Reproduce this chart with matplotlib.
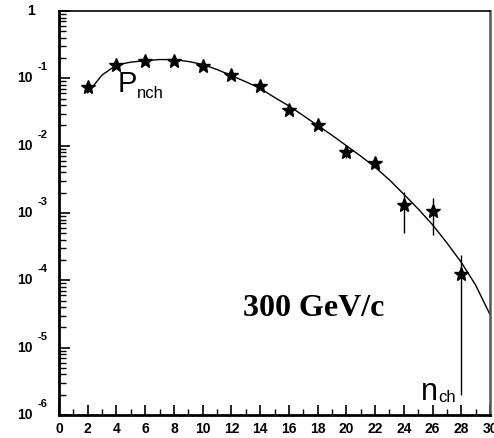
import matplotlib.pyplot as plt
from matplotlib.ticker import MultipleLocator, LogLocator, NullFormatter
import matplotlib.transforms as mtransforms

# measured multiplicity distribution P(n_ch), 300 GeV/c
n_ch = [2, 4, 6, 8, 10, 12, 14, 16, 18, 20, 22, 24, 26, 28]
p_nch = [0.074, 0.158, 0.18, 0.18, 0.153, 0.112, 0.077, 0.034, 0.020,
         0.0081, 0.0055, 0.0013, 0.00107, 0.000125]
err_lo = [0.0, 0.0, 0.0, 0.0, 0.0, 0.0, 0.0, 0.0, 0.0,
          0.0015, 0.0009, 0.0008, 0.0006, 0.000123]
err_hi = [0.0, 0.0, 0.0, 0.0, 0.0, 0.0, 0.0, 0.0, 0.0,
          0.0017, 0.0012, 0.00075, 0.0006, 0.000115]

# fitted curve
fit_x = [2, 3, 4, 5, 6, 7, 8, 9, 10, 11, 12, 13, 14, 15, 16,
         17, 18, 19, 20, 21, 22, 23, 24, 25, 26, 27, 28, 29, 30]
fit_y = [0.061, 0.112, 0.158, 0.174, 0.183, 0.19, 0.19, 0.178, 0.161, 0.135,
         0.110, 0.089, 0.071, 0.052, 0.039, 0.028, 0.020, 0.0143, 0.0100,
         0.0070, 0.0048, 0.0031, 0.0019, 0.00115, 0.00067, 0.00036, 0.000185,
         0.000085, 0.000031]

fig = plt.figure(figsize=(4.94, 4.38), dpi=100)
ax = fig.add_axes([59 / 494, 23 / 438, 431 / 494, 404 / 438])

ax.plot(fit_x, fit_y, color='black', lw=1.0)
ax.errorbar(n_ch, p_nch, yerr=[err_lo, err_hi], fmt='none', ecolor='black',
            elinewidth=1.0, capsize=0)
ax.plot(n_ch, p_nch, linestyle='none', marker='*', color='black',
        markersize=10)

ax.set_yscale('log')
ax.set_xlim(0, 30)
ax.set_ylim(1e-6, 1)

for side in ['left', 'bottom']:
    ax.spines[side].set_linewidth(2.0)
ax.spines['top'].set_linewidth(1.2)
ax.spines['right'].set_linewidth(1.8)
ax.spines['right'].set_color('#555555')

ax.xaxis.set_major_locator(MultipleLocator(2))
ax.xaxis.set_minor_locator(MultipleLocator(1))
ax.tick_params(axis='x', which='major', direction='in', length=7, width=1.2,
               top=False, pad=5, labelsize=10)
ax.tick_params(axis='x', which='minor', direction='in', length=4, width=1.0,
               top=False)
for lab in ax.get_xticklabels():
    lab.set_fontweight('bold')
    lab.set_family('Liberation Sans')

ax.yaxis.set_major_locator(LogLocator(base=10, numticks=10))
ax.yaxis.set_minor_locator(LogLocator(base=10, subs=range(2, 10), numticks=10))
ax.yaxis.set_minor_formatter(NullFormatter())
ax.yaxis.set_major_formatter(NullFormatter())
ax.tick_params(axis='y', which='major', direction='in', length=8, width=1.2,
               right=False)
ax.tick_params(axis='y', which='minor', direction='in', length=5, width=1.0,
               right=False)

# y tick labels drawn as "10" with raised exponent
trans = mtransforms.blended_transform_factory(fig.transFigure, ax.transData)
off = mtransforms.offset_copy(trans, fig=fig, x=0, y=8, units='points')
exps = [-1, -2, -3, -4, -5, -6]
for e in exps:
    ax.text(33 / 494, 10.0 ** e, '10', transform=trans, ha='right',
            va='center', fontsize=10, fontweight='bold',
            family='Liberation Sans')
    ax.text(38 / 494, 10.0 ** e, str(e), transform=off, ha='left',
            va='center', fontsize=8, fontweight='bold',
            family='Liberation Sans')
ax.text(31 / 494, 1.0, '1', transform=trans, ha='center', va='center',
        fontsize=10, fontweight='bold', family='Liberation Sans')

ax.text(118 / 494, 1 - 92 / 438, 'P', transform=fig.transFigure,
        fontsize=21, family='Liberation Sans', va='baseline')
ax.text(137 / 494, 1 - 98 / 438, 'nch', transform=fig.transFigure,
        fontsize=12, family='Liberation Sans', va='baseline')
ax.text(421 / 494, 1 - 400 / 438, 'n', transform=fig.transFigure,
        fontsize=22, family='Liberation Sans', va='baseline')
ax.text(438 / 494, 1 - 402 / 438, 'ch', transform=fig.transFigure,
        fontsize=12, family='Liberation Sans', va='baseline')
ax.text(243 / 494, 1 - 316 / 438, '300 GeV/c', transform=fig.transFigure,
        fontsize=23, fontweight='bold', family='Liberation Serif',
        va='baseline')

fig.savefig('out.png', dpi=100)
